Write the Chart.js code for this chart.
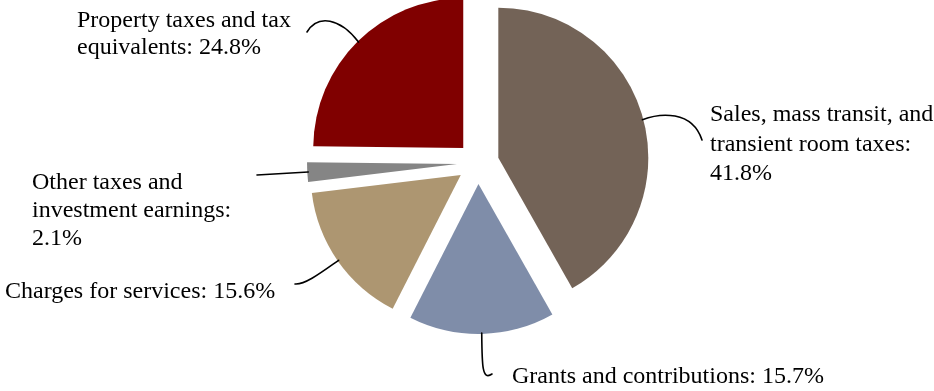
<!DOCTYPE html>
<html>
<head>
<meta charset="utf-8">
<script src="https://cdn.jsdelivr.net/npm/chart.js@4.4.0/dist/chart.umd.min.js"></script>
<style>
  html, body { margin: 0; padding: 0; background: #fff; }
  #wrap { width: 934px; height: 391px; }
</style>
</head>
<body>
<div id="wrap"><canvas id="myChart" width="934" height="391"></canvas></div>
<script>
// revenue shares, clockwise from 12 o'clock
var categories = [
  "Sales, mass transit, and transient room taxes",
  "Grants and contributions",
  "Charges for services",
  "Other taxes and investment earnings",
  "Property taxes and tax equivalents"
];
var shares = [41.8, 15.7, 15.6, 2.1, 24.8];
var colors = ["#736357", "#7f8da9", "#ad9671", "#858585", "#800000"];

// label text lines (as printed in the picture)
var labelLines = [
  ["Sales, mass transit, and", "transient room taxes:", "41.8%"],
  ["Grants and contributions: 15.7%"],
  ["Charges for services: 15.6%"],
  ["Other taxes and", "investment earnings:", "2.1%"],
  ["Property taxes and tax", "equivalents: 24.8%"]
];

// where each label sits and how its leader line bends
var labelPos = [
  { x: 710, y: 121, lh: 29.5, end: [702, 140], c1: [660, 113], c2: [692, 110] },
  { x: 512, y: 383, lh: 28, end: [492, 374], c1: [482, 365], c2: [482, 381] },
  { x: 5, y: 298, lh: 28, end: [295, 284], c1: [322, 272], c2: [305, 285] },
  { x: 32, y: 189, lh: 28, end: [257, 175], c1: null, c2: null },
  { x: 77, y: 27, lh: 26.5, end: [307, 32], c1: [340, 18], c2: [318, 14] }
];

// draws the exploded slices straight from the arc elements
var explodedPie = {
  id: "explodedPie",
  beforeDatasetDraw: function (chart, args) {
    var ctx = chart.ctx;
    args.meta.data.forEach(function (arc) {
      var o = arc.options.offset || 0;
      var mid = (arc.startAngle + arc.endAngle) / 2;
      ctx.save();
      ctx.translate(Math.cos(mid) * o, Math.sin(mid) * o);
      ctx.beginPath();
      ctx.moveTo(arc.x, arc.y);
      ctx.arc(arc.x, arc.y, arc.outerRadius, arc.startAngle, arc.endAngle);
      ctx.closePath();
      ctx.fillStyle = arc.options.backgroundColor;
      ctx.fill();
      ctx.restore();
    });
    return false;
  },
  afterDraw: function (chart) {
    var ctx = chart.ctx;
    var meta = chart.getDatasetMeta(0);
    ctx.save();
    ctx.strokeStyle = "#000";
    ctx.lineWidth = 1.6;
    ctx.lineCap = "round";
    meta.data.forEach(function (arc, i) {
      var o = arc.options.offset || 0;
      var mid = (arc.startAngle + arc.endAngle) / 2;
      var r = arc.outerRadius + o - 1;
      var ax = arc.x + Math.cos(mid) * r;
      var ay = arc.y + Math.sin(mid) * r;
      var p = labelPos[i];
      ctx.beginPath();
      ctx.moveTo(ax, ay);
      if (p.c1) {
        ctx.bezierCurveTo(p.c1[0], p.c1[1], p.c2[0], p.c2[1], p.end[0], p.end[1]);
      } else {
        ctx.lineTo(p.end[0], p.end[1]);
      }
      ctx.stroke();
    });
    ctx.fillStyle = "#000";
    ctx.font = "24px 'Liberation Serif', 'Times New Roman', serif";
    ctx.textBaseline = "alphabetic";
    ctx.textAlign = "left";
    labelLines.forEach(function (lines, i) {
      var p = labelPos[i];
      lines.forEach(function (t, k) {
        ctx.fillText(t, p.x, p.y + k * p.lh);
      });
    });
    ctx.restore();
  }
};

var config = {
  type: "pie",
  data: {
    labels: categories,
    datasets: [
      {
        data: shares,
        backgroundColor: colors,
        borderWidth: 0,
        offset: 21
      }
    ]
  },
  options: {
    responsive: false,
    devicePixelRatio: 1,
    animation: false,
    radius: 150,
    layout: {
      padding: { left: 22, right: 0, top: 0, bottom: 65 }
    },
    plugins: {
      legend: { display: false },
      tooltip: { enabled: false }
    },
    events: []
  },
  plugins: [explodedPie]
};

var ctx = document.getElementById("myChart").getContext("2d");
new Chart(ctx, config);
</script>
</body>
</html>
